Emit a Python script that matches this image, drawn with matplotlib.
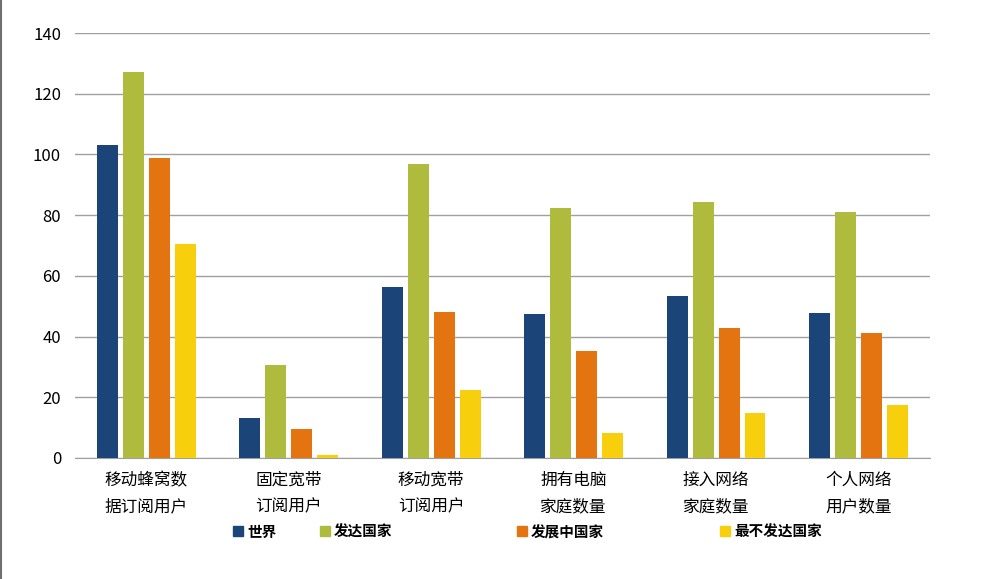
import numpy as np
import matplotlib
matplotlib.use("Agg")
import matplotlib.pyplot as plt
from matplotlib.patches import Rectangle
from matplotlib.lines import Line2D

plt.rcParams['font.family'] = ['Noto Sans CJK SC', 'DejaVu Sans']

# 数据
categories = ["移动蜂窝数\n据订阅用户", "固定宽带\n订阅用户", "移动宽带\n订阅用户",
              "拥有电脑\n家庭数量", "接入网络\n家庭数量", "个人网络\n用户数量"]
series_names = ["世界", "发达国家", "发展中国家", "最不发达国家"]
world = [103.1, 13.2, 56.3, 47.4, 53.4, 47.8]
developed = [127.1, 30.6, 96.8, 82.3, 84.3, 81.0]
developing = [98.8, 9.6, 48.1, 35.2, 42.8, 41.2]
least_developed = [70.5, 1.0, 22.4, 8.2, 14.8, 17.5]
y_ticks = [0, 20, 40, 60, 80, 100, 120, 140]

colors = ["#1B4479", "#AEBB3C", "#E3740F", "#F7CF0C"]
series = [world, developed, developing, least_developed]

fig = plt.figure(figsize=(10.01, 5.79), dpi=100)
ax = fig.add_axes([0.0749, 0.209, 0.854, 0.734])

x = np.arange(len(categories))
bar_w = 0.147
step = 0.182
for i, vals in enumerate(series):
    ax.bar(x + (i - 1.5) * step, vals, width=bar_w, color=colors[i], zorder=3)

ax.set_xlim(-0.5, len(categories) - 0.5)
ax.set_ylim(0, 140)
ax.set_yticks(y_ticks)
ax.set_yticklabels([str(t) for t in y_ticks], fontsize=12)
ax.yaxis.grid(True, color="#A0A0A0", linewidth=1, zorder=0)
ax.set_xticks(x)
ax.set_xticklabels(categories, fontsize=12, linespacing=1.7)
ax.tick_params(axis='both', length=0)
ax.tick_params(axis='y', pad=10)
ax.tick_params(axis='x', pad=10)
for side in ['top', 'right', 'left']:
    ax.spines[side].set_visible(False)
ax.spines['bottom'].set_color("#A0A0A0")

# 图例
legend_x = [0.2328, 0.3197, 0.5165, 0.7193]
for i, name in enumerate(series_names):
    fig.patches.append(Rectangle((legend_x[i], 0.074), 0.010, 0.017,
                                 transform=fig.transFigure, color=colors[i]))
    fig.text(legend_x[i] + 0.014, 0.081, name, fontsize=10.5, fontweight='bold',
             va='center', ha='left')

# 左侧边框
fig.lines.append(Line2D([0.001, 0.001], [0, 1], transform=fig.transFigure,
                        color="#707070", linewidth=1.5))

fig.savefig("out.png", dpi=100)
